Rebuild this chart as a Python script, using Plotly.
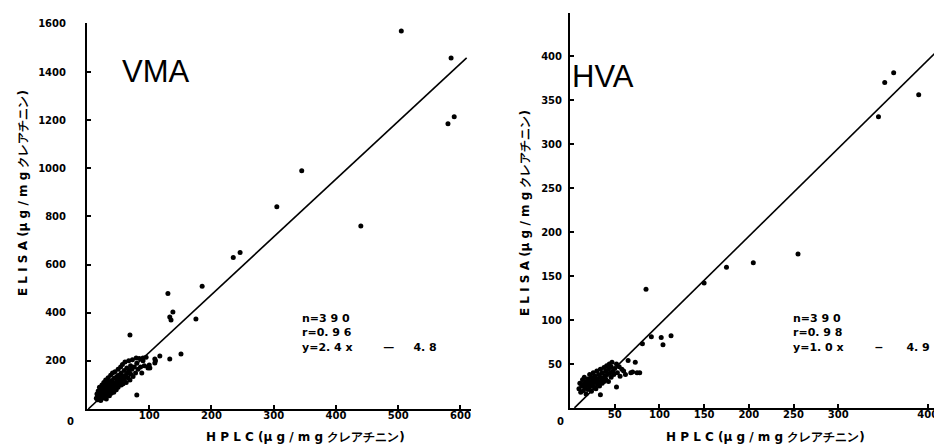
import plotly.graph_objects as go

# ---------------- data ----------------
# VMA panel (HPLC vs ELISA, µg/mg creatinine)
vma_x = [15,16,17,18,19,20,20,21,22,22,23,24,24,25,26,26,27,28,28,29,30,30,31,32,32,33,34,34,35,36,36,37,38,38,39,40,40,41,42,42,43,44,45,45,46,47,48,48,49,50,50,51,52,53,54,55,55,56,57,58,58,60,60,61,62,63,64,65,66,67,68,69,70,70,72,73,74,76,78,80,82,84,86,88,90,92,95,98,
         69,80,90,79,101,100,98,109,110,109,117,133,151,175,138,133,135,130,185,235,246,305,345,440,505,585,590,580]
vma_y = [45,62,38,75,55,90,48,68,35,82,58,100,72,45,88,62,110,52,78,95,68,120,42,85,105,60,92,130,75,112,55,98,140,80,65,118,95,150,85,105,70,128,92,155,110,80,135,100,120,165,90,140,112,128,175,100,150,120,185,135,105,160,125,195,140,110,170,150,130,200,160,120,180,145,165,205,135,175,150,190,165,210,175,150,200,180,215,170,
         308,58,212,212,170,183,176,208,200,191,220,208,229,374,403,382,370,480,510,630,650,840,990,760,1571,1459,1214,1185]

# HVA panel
hva_x = [10,11,12,13,14,15,15,16,17,18,18,19,20,20,21,22,22,23,24,24,25,26,26,27,28,28,29,30,30,31,32,32,33,34,34,35,36,36,37,38,38,39,40,40,41,42,43,43,44,45,46,46,47,48,49,50,52,53,55,56,58,60,62,65,68,70,
         34,52,73,75,78,81,91,102,104,113,85,150,175,205,255,345,352,362,390,410]
hva_y = [22,28,18,25,32,20,27,35,23,30,16,26,33,21,28,38,24,30,19,35,27,32,40,24,29,36,22,33,42,27,38,30,25,35,44,31,28,40,34,46,30,37,42,33,48,38,44,30,50,40,35,47,52,42,38,45,50,40,47,36,44,42,38,54,40,41,
         15,24,52,40,40,73,81,80,72,82,135,142,160,165,175,331,370,381,356,435]

# regression lines: slope, intercept, x-extent
vma_fit = dict(slope=2.4, intercept=-4.8, x=[2, 610])
hva_fit = dict(slope=1.0, intercept=-4.9, x=[5, 410])

vma_xticks = [100, 200, 300, 400, 500, 600]
vma_yticks = [200, 400, 600, 800, 1000, 1200, 1400, 1600]
hva_xticks = [50, 100, 150, 200, 250, 300, 400]
hva_yticks = [50, 100, 150, 200, 250, 300, 350, 400]

NB = "\u00a0"
stats_vma = ["n=3 9 0", "r=0. 9 6", "y=2. 4 x" + NB * 8 + "—" + NB * 5 + "4. 8"]
stats_hva = ["n=3 9 0", "r=0. 9 8", "y=1. 0 x" + NB * 8 + "−" + NB * 6 + "4. 9"]

x_title = "H P L C (μ g / m g クレアチニン)"
y_title = "E L I S A (μ g / m g クレアチニン)"

# ---------------- figure ----------------
W, H = 942, 448
FONT = "DejaVu Sans"
tickfont = dict(family=FONT, size=10, color="black", weight="bold")

fig = go.Figure()

def fit_y(f):
    return [f["slope"] * xx + f["intercept"] for xx in f["x"]]

fig.add_trace(go.Scatter(x=vma_fit["x"], y=fit_y(vma_fit), mode="lines",
                         line=dict(color="black", width=1.6), xaxis="x", yaxis="y",
                         showlegend=False, hoverinfo="skip"))
fig.add_trace(go.Scatter(x=vma_x, y=vma_y, mode="markers",
                         marker=dict(color="black", size=5), xaxis="x", yaxis="y",
                         showlegend=False))
fig.add_trace(go.Scatter(x=hva_fit["x"], y=fit_y(hva_fit), mode="lines",
                         line=dict(color="black", width=1.6), xaxis="x2", yaxis="y2",
                         showlegend=False, hoverinfo="skip"))
fig.add_trace(go.Scatter(x=hva_x, y=hva_y, mode="markers",
                         marker=dict(color="black", size=5), xaxis="x2", yaxis="y2",
                         showlegend=False))

def px(x):
    return x / W

def py(y):
    return 1 - y / H

axis_common = dict(showgrid=False, zeroline=False, showline=True, linecolor="black",
                   linewidth=2, ticks="inside", ticklen=4, tickwidth=1.5, tickcolor="black",
                   tickfont=tickfont, automargin=False, fixedrange=True)

fig.update_layout(
    width=W, height=H,
    margin=dict(l=0, r=0, t=0, b=0),
    paper_bgcolor="white", plot_bgcolor="white",
    xaxis=dict(domain=[px(79), px(463)], range=[0, 617], anchor="y",
               tickvals=vma_xticks, ticklabelstandoff=-4, **axis_common),
    yaxis=dict(domain=[py(401), py(15)], range=[0, 1604], anchor="x",
               tickvals=vma_yticks, ticklabelstandoff=17, **axis_common),
    xaxis2=dict(domain=[px(562), 1.0], range=[0, 425], anchor="y2",
                tickvals=hva_xticks, ticklabelstandoff=-4, **axis_common),
    yaxis2=dict(domain=[py(400), py(5)], range=[0, 448.9], anchor="x2",
                tickvals=hva_yticks, ticklabelstandoff=4, **axis_common),
)

ann = []
def add_text(text, x, y, size, xanchor="center", yanchor="middle", angle=0, weight="bold",
             family=FONT, align="left"):
    ann.append(dict(text=text, x=px(x), y=py(y), xref="paper", yref="paper",
                    xanchor=xanchor, yanchor=yanchor, showarrow=False, textangle=angle,
                    align=align,
                    font=dict(family=family, size=size, color="black", weight=weight)))

# origin labels
add_text("0", 62, 413, 10)
add_text("0", 552, 413, 10)
# panel titles
add_text("VMA", 148, 64, 31, weight="normal", family="Liberation Sans")
add_text("HVA", 595, 68, 31, weight="normal", family="Liberation Sans")
# axis titles
add_text(x_title, 297, 429, 12)
add_text(x_title, 757, 429, 12)
add_text(y_title, 15, 185, 12, angle=-90)
add_text(y_title, 517, 205, 12, angle=-90)
# stats
add_text("<br>".join(stats_vma), 292, 302, 11, xanchor="left", yanchor="top")
add_text("<br>".join(stats_hva), 783, 302, 11, xanchor="left", yanchor="top")

fig.update_layout(annotations=ann)
fig.write_html("out.html")
